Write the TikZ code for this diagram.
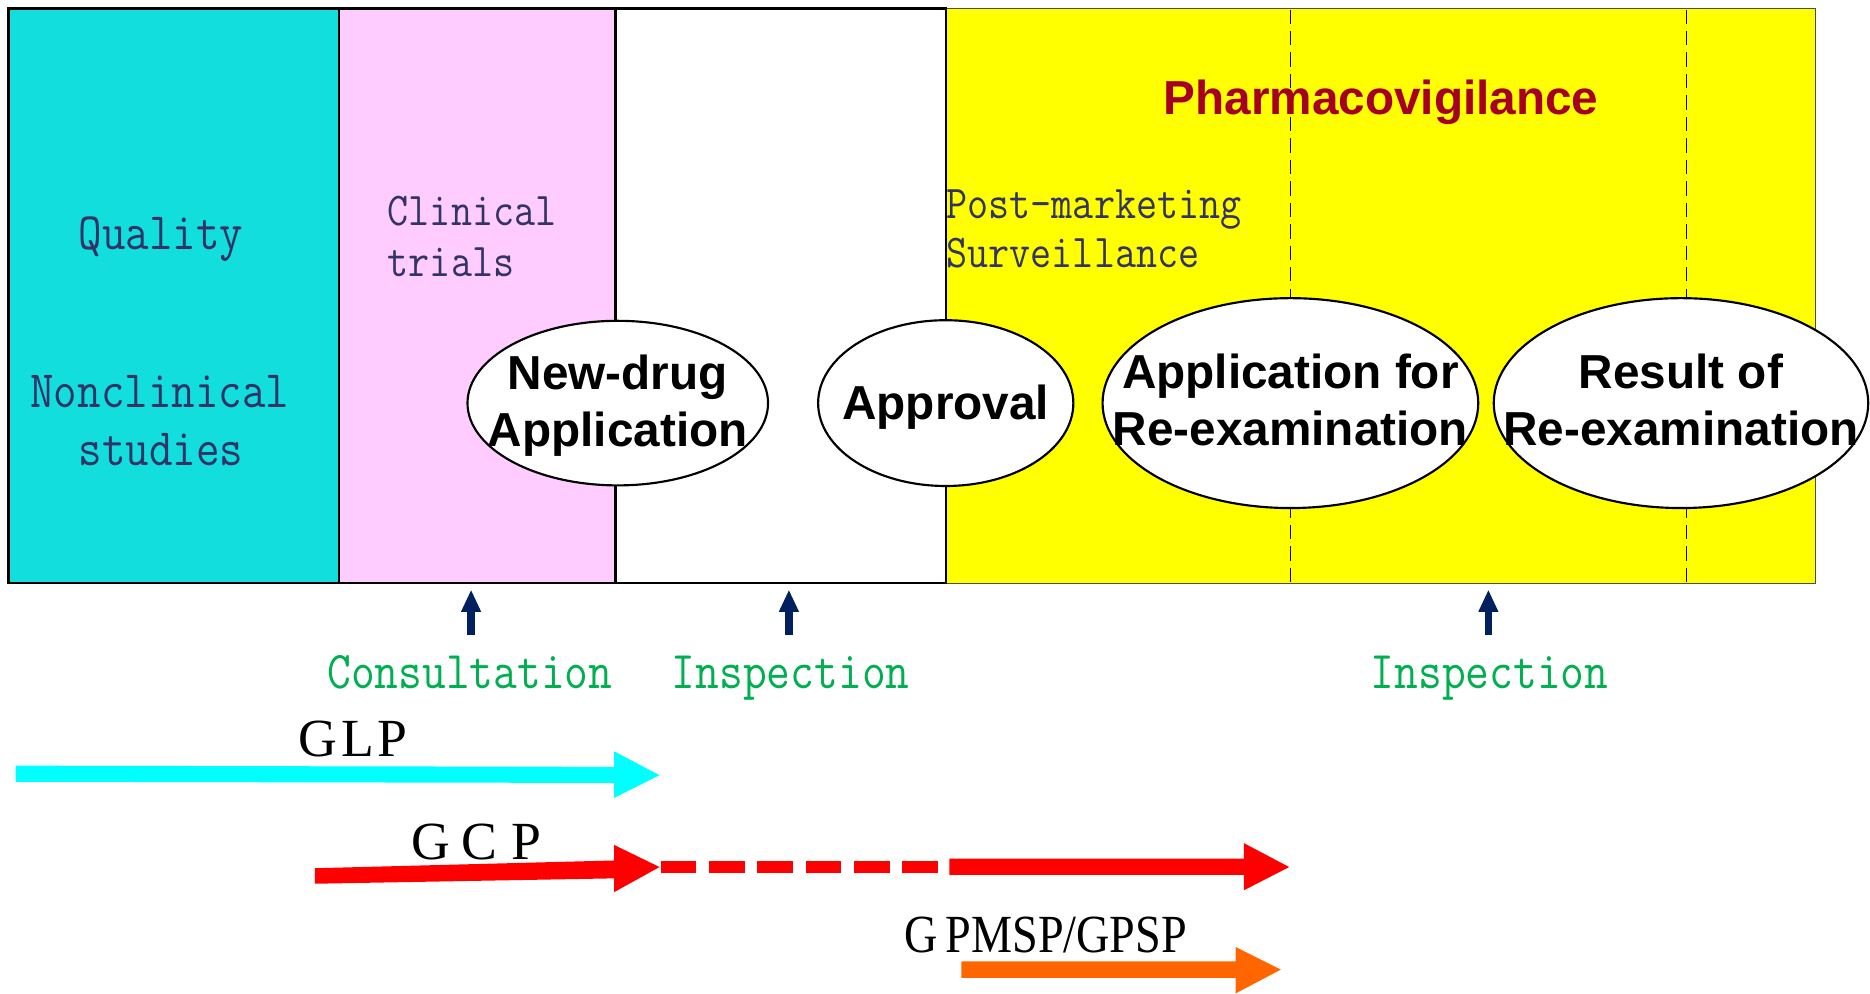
\documentclass[tikz,border=0pt]{standalone}
\usepackage{fontspec}
\usepackage{graphicx}
\setmainfont{Liberation Serif}
\newfontfamily\monof{Latin Modern Mono}
\newfontfamily\sansf{Liberation Sans}
\usetikzlibrary{arrows.meta,shapes.geometric}
\definecolor{cyanbox}{HTML}{13DEDE}
\definecolor{pinkbox}{HTML}{FFCCFF}
\definecolor{yellowbox}{HTML}{FFFF00}
\definecolor{slatetext}{HTML}{333366}
\definecolor{greentext}{HTML}{00B050}
\definecolor{pvred}{HTML}{A50021}
\definecolor{navyarr}{HTML}{002060}
\definecolor{glpcyan}{HTML}{00FFFF}
\definecolor{gcpred}{HTML}{FF0000}
\definecolor{gpsporange}{HTML}{FF6600}
\newcommand{\tallt}[1]{\scalebox{1}[1.15]{#1}}
\begin{document}
\begin{tikzpicture}[x=1pt,y=-1pt,
  box/.style={line width=2pt, draw=black},
  vdash/.style={line width=1.3pt, dash pattern=on 12pt off 6pt},
  oval/.style={ellipse, draw=black, fill=white, line width=1.8pt, inner sep=0pt},
  boldtxt/.style={font=\sansf\bfseries\fontsize{40pt}{47pt}\selectfont, inner sep=0pt, anchor=base},
  monoA/.style={font=\monof\fontsize{38.3pt}{44pt}\selectfont, text=slatetext, inner sep=0pt, anchor=base},
  monoB/.style={font=\monof\fontsize{34.3pt}{40pt}\selectfont, text=slatetext, inner sep=0pt, anchor=base west},
  grn/.style={font=\monof\fontsize{38.7pt}{44pt}\selectfont, text=greentext, inner sep=0pt, anchor=base},
  gtxt/.style={font=\fontsize{45pt}{54pt}\selectfont, inner sep=0pt, anchor=base west},
  uparr/.style={draw=navyarr, line width=6.5pt, -{Triangle[width=17pt,length=18pt,line width=0pt]}}
]
\useasboundingbox (0,0) rectangle (1568,833);
\fill[white] (0,0) rectangle (1568,833);

% phase boxes
\filldraw[fill=yellowbox, draw=gray!60!black, line width=0.8pt] (793,7) rectangle (1522,489);
\filldraw[box, fill=white] (516,7) rectangle (793,489);
\filldraw[box, fill=pinkbox] (284,7) rectangle (516,489);
\filldraw[box, fill=cyanbox] (7,7) rectangle (284,489);
\draw[vdash] (1082,8) -- (1082,488);
\draw[vdash] (1414,8) -- (1414,488);

% milestones
\node[oval, minimum width=252pt, minimum height=138pt] (nda) at (518,338) {};
\node[oval, minimum width=214pt, minimum height=139pt] (appr) at (793,338) {};
\node[oval, minimum width=315pt, minimum height=176pt] (reapp) at (1082,338) {};
\node[oval, minimum width=314pt, minimum height=176pt] (reres) at (1409.5,338) {};

\node[boldtxt] (nda1) at (518,327) {New-drug};
\node[boldtxt] (nda2) at (518,374.5) {Application};
\node[boldtxt] (apprT) at (793,351.5) {Approval};
\node[boldtxt] (reapp1) at (1082,325.7) {Application for};
\node[boldtxt] (reapp2) at (1082,373.8) {Re-examination};
\node[boldtxt] (reres1) at (1409.5,325.7) {Result of};
\node[boldtxt] (reres2) at (1409.5,373.8) {Re-examination};

\node[boldtxt, text=pvred] (pv) at (1158,95.6) {Pharmacovigilance};

% phase labels
\node[monoA] (qual) at (135,208.8) {\tallt{Quality}};
\node[monoA] (noncl1) at (134,342) {\tallt{Nonclinical}};
\node[monoA] (noncl2) at (135,390.3) {\tallt{studies}};
\node[monoB] (clin1) at (325,188.7) {\tallt{Clinical}};
\node[monoB] (clin2) at (325,232) {\tallt{trials}};
\node[monoB] (pms1) at (793.5,182.9) {\tallt{Post-marketing}};
\node[monoB] (pms2) at (793.5,224.6) {\tallt{Surveillance}};

% checkpoints
\node[grn] (cons) at (394,577) {\tallt{Consultation}};
\node[grn] (insp1) at (663,577) {\tallt{Inspection}};
\node[grn] (insp2) at (1249,577) {\tallt{Inspection}};
\coordinate (consA) at (395,532.5);
\coordinate (consB) at (395,495);
\coordinate (insp1A) at (661.5,532.5);
\coordinate (insp1B) at (661.5,495);
\coordinate (insp2A) at (1248,532.5);
\coordinate (insp2B) at (1248,495);
\draw[uparr] (consA) -- (consB);
\draw[uparr] (insp1A) -- (insp1B);
\draw[uparr] (insp2A) -- (insp2B);

% GLP
\node[gtxt] (glp) at (250,634) {G\hspace{4pt}L\hspace{2pt}P};
\fill[glpcyan] (13,642) -- (515,643) -- (515,630) -- (553,650) -- (515,669) -- (515,656.5) -- (13,655.5) -- cycle;

% GCP
\node[gtxt] (gcp) at (345,720.6) {G\hspace{9pt}C\hspace{12pt}P};
\fill[gcpred] (264,728) -- (515,721.5) -- (515,708.5) -- (553,727) -- (515,748) -- (515,736.5) -- (264,741) -- cycle;
\draw[gcpred, line width=10pt, dash pattern=on 30pt off 10.5pt] (554,727) -- (800,727);
\fill[gcpred] (796,720) -- (1043,720) -- (1043,707) -- (1081,727) -- (1043,746.5) -- (1043,733.5) -- (796,733.5) -- cycle;

% GPMSP/GPSP
\node[gtxt] (gpsp) at (758,798.8) {\scalebox{0.86}[1]{G\hspace{8pt}PMSP/GPSP}};
\fill[gpsporange] (806,806) -- (1036,806) -- (1036,794) -- (1074,813) -- (1036,833) -- (1036,820) -- (806,820) -- cycle;
\end{tikzpicture}
\end{document}
